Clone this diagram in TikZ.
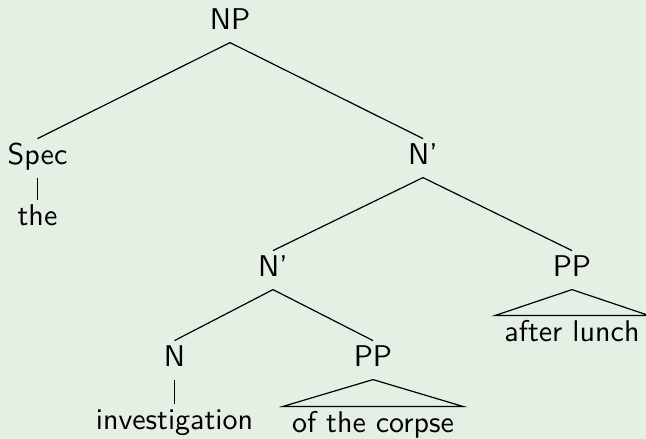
\documentclass[tikz,border=0pt]{standalone}
\definecolor{slidebg}{RGB}{228,240,228}
\tikzset{
  cat/.style={inner sep=0pt, text height=8.6pt, text depth=4pt, font=\sffamily},
  leaf/.style={cat, inner xsep=3pt},
}
\begin{document}
\begin{tikzpicture}[x=0.3333pt, y=-0.3333pt]

\fill[slidebg] (0,0) rectangle (646,439);
\useasboundingbox (0,0) rectangle (646,439);

\node[cat, anchor=base] (np) at (230,30) {NP};
\node[cat, anchor=base] (spec) at (37.5,165) {Spec};
\node[cat, anchor=base] (the) at (37.5,226) {the};
\node[cat, anchor=base] (nbar1) at (423,165) {N'};
\node[cat, anchor=base] (nbar2) at (273,277) {N'};
\node[cat, anchor=base] (pp1) at (572,277) {PP};
\node[leaf, anchor=base] (after) at (572,342) {after lunch};
\node[cat, anchor=base] (n) at (174.5,367) {N};
\node[cat, anchor=base] (inv) at (174.5,430) {investigation};
\node[cat, anchor=base] (pp2) at (373,367) {PP};
\node[leaf, anchor=base] (corpse) at (373,433) {of the corpse};

\draw (np.south) -- (spec.north);
\draw (np.south) -- (nbar1.north);
\draw (spec.south) -- (the.north);
\draw (nbar1.south) -- (nbar2.north);
\draw (nbar1.south) -- (pp1.north);
\draw (nbar2.south) -- (n.north);
\draw (nbar2.south) -- (pp2.north);
\draw (n.south) -- (inv.north);
\draw (pp1.south) -- (after.north west) -- (after.north east) -- cycle;
\draw (pp2.south) -- (corpse.north west) -- (corpse.north east) -- cycle;
\end{tikzpicture}
\end{document}
